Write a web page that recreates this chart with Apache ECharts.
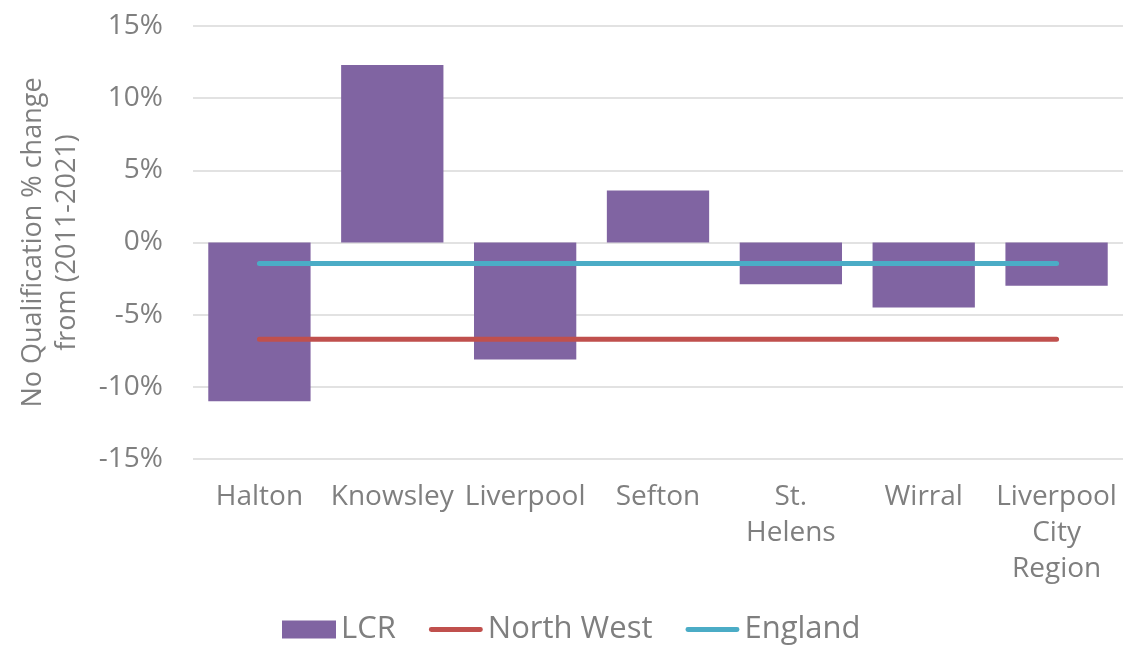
<!DOCTYPE html>
<html>
<head>
<meta charset="utf-8">
<script src="https://cdn.jsdelivr.net/npm/echarts@6/dist/echarts.min.js"></script>
<style>
  html, body { margin: 0; padding: 0; background: #fff; }
  #chart { width: 1127px; height: 649px; }
</style>
</head>
<body>
<div id="chart"></div>
<script>
// data
const categories = ['Halton', 'Knowsley', 'Liverpool', 'Sefton', 'St.\nHelens', 'Wirral', 'Liverpool\nCity\nRegion'];
const lcr = [-11.0, 12.3, -8.1, 3.6, -2.9, -4.5, -3.0];
const northWest = [-6.7, -6.7, -6.7, -6.7, -6.7, -6.7, -6.7];
const england = [-1.45, -1.45, -1.45, -1.45, -1.45, -1.45, -1.45];

const txt = '#7f7f7f';
const font = 'Open Sans';
// legend icon for the lines: thin rounded bar, with corner points so it keeps its box
const lineIcon = 'path://M0,0 L0.01,0 Z M56,18 L55.99,18 Z M2.5,6.5 L53.5,6.5 A2.5,2.5 0 0 1 53.5,11.5 L2.5,11.5 A2.5,2.5 0 0 1 2.5,6.5 Z';

const chart = echarts.init(document.getElementById('chart'));
chart.setOption({
  animation: false,
  textStyle: { fontFamily: font },
  grid: { left: 193, right: 4, top: 26, bottom: 190, outerBoundsMode: 'none' },
  legend: {
    top: 609,
    left: 277,
    itemWidth: 54,
    itemHeight: 18,
    itemGap: 33,
    textStyle: { color: txt, fontSize: 31, fontFamily: font },
    data: [
      { name: 'LCR', icon: 'rect' },
      { name: 'North West', icon: lineIcon },
      { name: 'England', icon: lineIcon }
    ]
  },
  xAxis: {
    type: 'category',
    data: categories,
    axisLine: { show: false },
    axisTick: { show: false },
    axisLabel: {
      color: txt, fontSize: 28, lineHeight: 36, margin: 20, interval: 0
    }
  },
  yAxis: {
    type: 'value',
    min: -15, max: 15, interval: 5,
    name: 'No Qualification % change\nfrom (2011-2021)',
    nameLocation: 'middle',
    nameGap: 109,
    nameTextStyle: { color: txt, fontSize: 27, lineHeight: 34 },
    axisLabel: { color: txt, fontSize: 28, margin: 30, formatter: v => v + '%' },
    splitLine: { lineStyle: { color: '#d9d9d9', width: 1.5 } }
  },
  series: [
    {
      name: 'LCR', type: 'bar', data: lcr,
      barCategoryGap: '23%',
      itemStyle: { color: '#8064A2' }
    },
    {
      name: 'North West', type: 'line', data: northWest,
      symbol: 'none',
      lineStyle: { color: '#C0504D', width: 5, cap: 'round' },
      itemStyle: { color: '#C0504D' }
    },
    {
      name: 'England', type: 'line', data: england,
      symbol: 'none',
      lineStyle: { color: '#4BACC6', width: 5, cap: 'round' },
      itemStyle: { color: '#4BACC6' }
    }
  ]
});
</script>
</body>
</html>
